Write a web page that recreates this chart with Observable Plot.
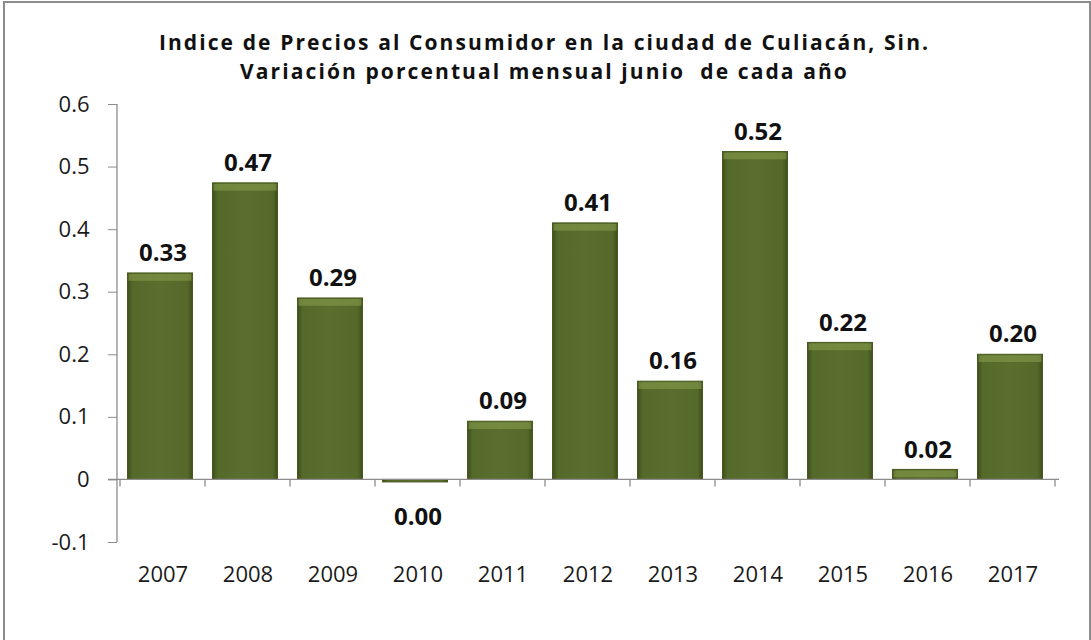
<!DOCTYPE html>
<html><head><meta charset="utf-8">
<script src="https://cdn.jsdelivr.net/npm/d3@7"></script>
<script src="https://cdn.jsdelivr.net/npm/@observablehq/plot@0.6"></script>
<style>
body{margin:0;background:#fff;}
#wrap{position:relative;width:1091px;height:640px;overflow:hidden;}
#border{position:absolute;left:3px;top:1px;width:1088px;height:660px;border:2px solid #8c8c8c;box-sizing:border-box;}
#title{position:absolute;left:0;top:28px;width:1089px;text-align:center;font-family:"Open Sans",sans-serif;font-weight:700;font-size:21px;letter-spacing:2.1px;line-height:29px;color:#111;z-index:2;}
svg{position:absolute;left:0;top:0;}
</style></head>
<body>
<div id="wrap"><div id="border"></div>
<div id="title">Indice de Precios al Consumidor en la ciudad de Culiacán, Sin.<br>Variación porcentual mensual junio&nbsp; de cada año</div>
</div>
<script>
const years = ["2007","2008","2009","2010","2011","2012","2013","2014","2015","2016","2017"];
const values = [0.33, 0.474, 0.29, -0.004, 0.093, 0.41, 0.157, 0.524, 0.219, 0.016, 0.2];
const labels = ["0.33","0.47","0.29","0.00","0.09","0.41","0.16","0.52","0.22","0.02","0.20"];
const yTicks = [-0.1, 0, 0.1, 0.2, 0.3, 0.4, 0.5, 0.6];

const data = years.map((y, i) => ({year: y, value: values[i], label: labels[i]}));

const font = '"Open Sans", sans-serif';

const axes = (index, {x, y}, values, dims) => {
  const g = d3.create("svg:g").attr("stroke", "#8c8c8c").attr("stroke-width", 1.3).attr("fill", "none");
  const x0 = dims.marginLeft, x1 = dims.width - dims.marginRight;
  const yTop = y(0.6), yBot = y(-0.1), y0 = y(0);
  g.append("line").attr("x1", x0).attr("x2", x0).attr("y1", yTop).attr("y2", yBot);
  g.append("line").attr("x1", x0 - 9).attr("x2", x1).attr("y1", y0).attr("y2", y0);
  const step = x.step();
  const first = x(years[0]) - (step - x.bandwidth()) / 2;
  for (let i = 0; i <= years.length; i++) {
    const xx = first + i * step;
    g.append("line").attr("x1", xx).attr("x2", xx).attr("y1", y0).attr("y2", y0 + 7);
  }
  return g.node();
};

const defs = () => {
  const svg = d3.create("svg:defs");
  const lg = svg.append("linearGradient").attr("id", "barGrad").attr("x1", 0).attr("x2", 1).attr("y1", 0).attr("y2", 0);
  lg.append("stop").attr("offset", "0%").attr("stop-color", "#3e4f1b");
  lg.append("stop").attr("offset", "8%").attr("stop-color", "#55692a");
  lg.append("stop").attr("offset", "50%").attr("stop-color", "#5a6f2e");
  lg.append("stop").attr("offset", "92%").attr("stop-color", "#55692a");
  lg.append("stop").attr("offset", "100%").attr("stop-color", "#3e4f1b");
  const f = svg.append("filter").attr("id", "shadow").attr("x", "-20%").attr("y", "-20%").attr("width", "140%").attr("height", "140%");
  f.append("feDropShadow").attr("dx", 0).attr("dy", 4).attr("stdDeviation", 3).attr("flood-color", "#000").attr("flood-opacity", 0.35);
  return svg.node();
};

const pos = data.filter(d => d.value >= 0);
const neg = data.filter(d => d.value < 0);

const plot = Plot.plot({
  width: 1091,
  height: 640,
  marginLeft: 117,
  marginRight: 32,
  marginTop: 104,
  marginBottom: 98,
  style: {fontFamily: font, background: "transparent", overflow: "visible"},
  x: {domain: years, paddingInner: 0.23, paddingOuter: 0.115, label: null},
  y: {domain: [-0.1, 0.6], label: null},
  marks: [
    defs,
    Plot.axisY({ticks: yTicks, tickSize: 9, tickPadding: 19, tickFormat: d => String(+d.toFixed(1)), fontSize: 22, label: null, stroke: "#8c8c8c", color: "#1a1a1a"}),
    Plot.axisX({tickSize: 0, tickPadding: 24, fontSize: 22, label: null, color: "#1a1a1a"}),
    Plot.barY(data, {x: "year", y: "value", dx: -2.5, fill: "url(#barGrad)", stroke: "#46591f", strokeWidth: 1, style: "filter:url(#shadow)"}),
    Plot.barY(data, {x: "year", y1: "value", dx: -2.5, y2: d => d.value > 0 ? Math.max(0, d.value - 0.014) : d.value, fill: "#8aa04e", fillOpacity: 0.55, inset: 1}),
    axes,
    Plot.text(pos, {x: "year", y: "value", text: "label", dy: -20, fontSize: 24, fontWeight: "bold", fill: "#111"}),
    Plot.text(neg, {x: "year", y: "value", text: "label", dy: 35, fontSize: 24, fontWeight: "bold", fill: "#111"})
  ]
});
document.getElementById("wrap").appendChild(plot);
</script>
</body></html>
